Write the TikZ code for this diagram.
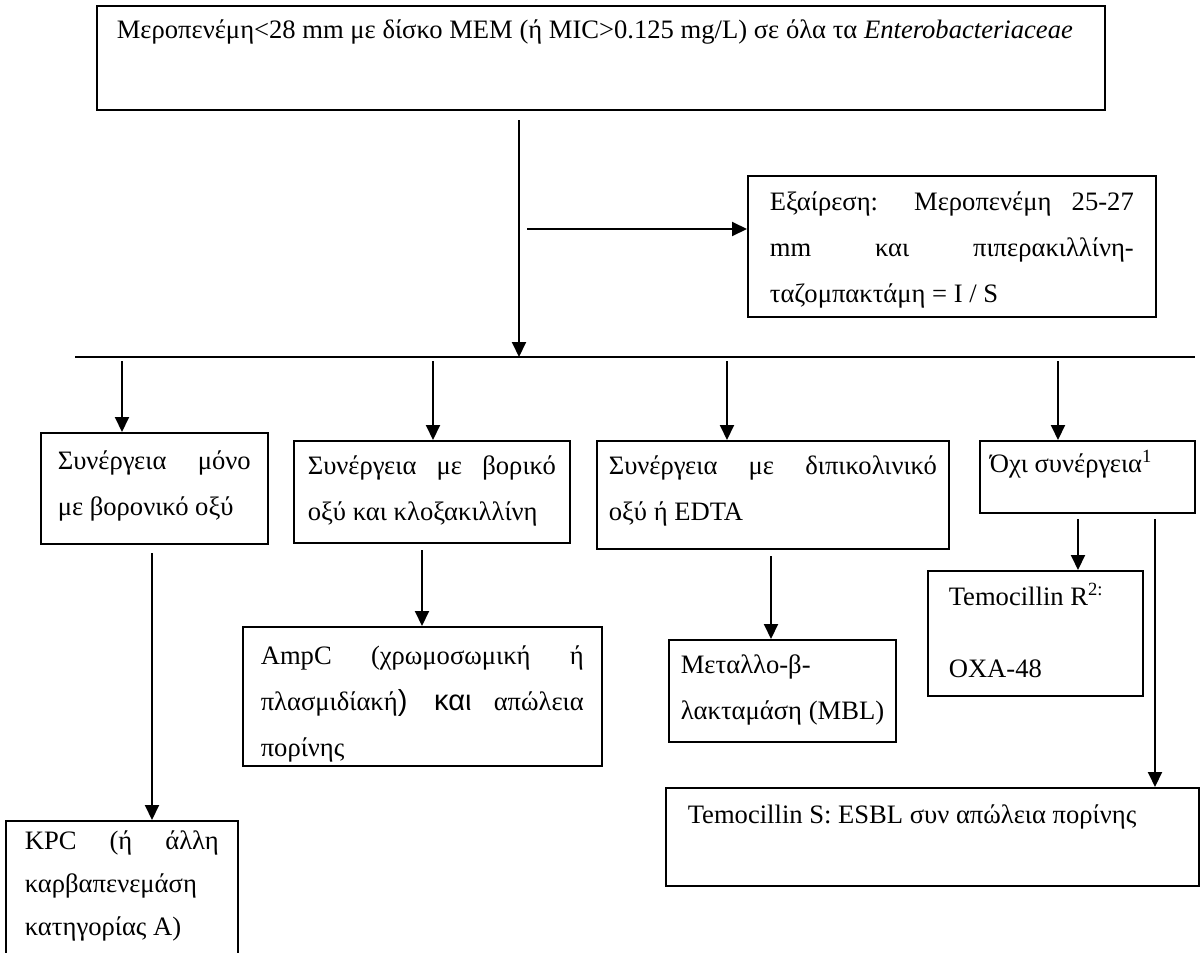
\documentclass[tikz,border=0pt]{standalone}
\usepackage{fontspec}
\setmainfont{Liberation Serif}
\setsansfont{Liberation Sans}
\usepackage{tikz}
\usetikzlibrary{arrows.meta}
\tikzset{edge/.style = {->,> = {Triangle[length=7.5pt,width=7pt]}}}
% text of a box: width, height, height of the first line, text
\newcommand{\boxtxt}[4]{\parbox[t][#2][t]{#1}{\fontsize{13.3}{23}\selectfont\rule{0pt}{#3}#4}}
\newcommand{\bigkai}[1]{{\sffamily\fontsize{14.5}{23}\selectfont #1}}

\begin{document}
\begin{tikzpicture}[x=0.5pt,y=-0.5pt,line width=1pt,
    box/.style={draw,line width=0.8pt,anchor=north west,inner ysep=0pt}]
\useasboundingbox (0,0) rectangle (1200,953);

\node[box,inner xsep=10pt] (mem) at (96,5) {\boxtxt{484pt}{52pt}{16.5pt}{\mbox{Μεροπενέμη<28 mm με δίσκο MEM (ή MIC>0.125 mg/L) σε όλα τα \textit{Enterobacteriaceae}}}};
\node[box,inner xsep=11pt] (exc) at (747,175) {\boxtxt{182pt}{70.5pt}{17.5pt}{Εξαίρεση: Μεροπενέμη 25-27\linebreak mm και πιπερακιλλίνη-\linebreak ταζομπακτάμη = I / S}};

\node[box,inner xsep=8.5pt] (bor) at (40,432) {\boxtxt{96.5pt}{55.5pt}{18.5pt}{Συνέργεια μόνο\linebreak με βορονικό οξύ}};
\node[box,inner xsep=7pt] (clx) at (293,440) {\boxtxt{124pt}{51pt}{17pt}{Συνέργεια με βορικό\linebreak οξύ και κλοξακιλλίνη}};
\node[box,inner xsep=6pt] (dpa) at (596,440) {\boxtxt{164pt}{54pt}{17pt}{Συνέργεια με διπικολινικό\linebreak οξύ ή EDTA}};
\node[box,inner xsep=5pt] (nos) at (979,440) {\boxtxt{97.5pt}{36pt}{16pt}{Όχι συνέργεια\textsuperscript{1}}};

\node[box,inner xsep=9.5pt] (kpc) at (5,820) {\boxtxt{97pt}{80pt}{14.5pt}{\baselineskip=21.5pt KPC (ή άλλη\linebreak καρβαπενεμάση\linebreak κατηγορίας A)}};
\node[box,inner xsep=9pt] (amp) at (242,626) {\boxtxt{161.5pt}{69.5pt}{19pt}{AmpC (χρωμοσωμική ή\linebreak πλασμιδίακή\bigkai{) και} απώλεια\linebreak πορίνης}};
\node[box,inner xsep=6pt] (mbl) at (668,639) {\boxtxt{101.5pt}{51pt}{17pt}{Μεταλλο-β-\\\mbox{λακταμάση (MBL)}}};
\node[box,inner xsep=10.5pt] (temr) at (927,570) {\boxtxt{86.5pt}{62.5pt}{17.5pt}{\mbox{Temocillin R\textsuperscript{2:}}\\[13pt]OXA-48}};
\node[box,inner xsep=11pt] (tems) at (665,787) {\boxtxt{244.5pt}{49pt}{18pt}{\mbox{Temocillin S: ESBL συν απώλεια πορίνης}}};

% split line
\coordinate (hl) at (75,357);
\coordinate (hr) at (1195,357);
\draw (hl) -- (hr);

\coordinate (m1) at (519,120);
\draw[edge] (m1) -- (m1 |- hl);
\coordinate (s1) at (527,229);
\draw[edge] (s1) -- (s1 -| exc.west);

\coordinate (d1) at (122,361);
\coordinate (d2) at (433,361);
\coordinate (d3) at (727,361);
\coordinate (d4) at (1058,361);
\draw[edge] (d1) -- (d1 |- bor.north);
\draw[edge] (d2) -- (d2 |- clx.north);
\draw[edge] (d3) -- (d3 |- dpa.north);
\draw[edge] (d4) -- (d4 |- nos.north);

\coordinate (k1) at (152,553);
\coordinate (k2) at (422,550);
\coordinate (k3) at (771,556);
\coordinate (k4) at (1078,519);
\coordinate (k5) at (1155,519);
\draw[edge] (k1) -- (k1 |- kpc.north);
\draw[edge] (k2) -- (k2 |- amp.north);
\draw[edge] (k3) -- (k3 |- mbl.north);
\draw[edge] (k4) -- (k4 |- temr.north);
\draw[edge] (k5) -- (k5 |- tems.north);
\end{tikzpicture}
\end{document}
